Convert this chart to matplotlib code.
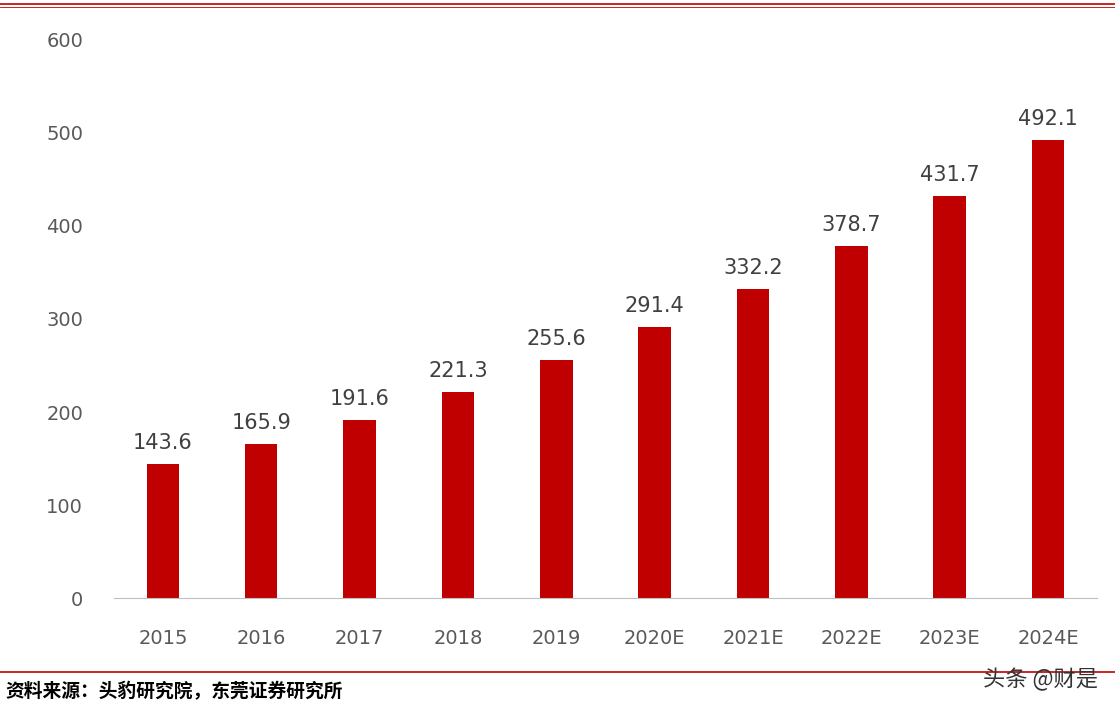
import matplotlib
matplotlib.use("Agg")
import matplotlib.pyplot as plt
from matplotlib.lines import Line2D

plt.rcParams['font.family'] = ['Noto Sans CJK SC', 'DejaVu Sans']

categories = ["2015", "2016", "2017", "2018", "2019", "2020E", "2021E", "2022E", "2023E", "2024E"]
values = [143.6, 165.9, 191.6, 221.3, 255.6, 291.4, 332.2, 378.7, 431.7, 492.1]
yticks = [0, 100, 200, 300, 400, 500, 600]

fig = plt.figure(figsize=(11.15, 7.12), dpi=100)
ax = fig.add_axes([0.102, 0.160, 0.882, 0.784])
x = range(len(categories))
ax.bar(x, values, width=0.33, color="#C00000")
for i, v in zip(x, values):
    ax.text(i, v + 12, f"{v:.1f}", ha="center", va="bottom", fontsize=15, color="#404040",
            family=['DejaVu Sans'])
ax.set_xlim(-0.5, len(categories) - 0.5)
ax.set_ylim(0, 600)
ax.set_yticks(yticks)
ax.set_xticks(list(x))
ax.set_xticklabels(categories)
for s in ["top", "right", "left"]:
    ax.spines[s].set_visible(False)
ax.spines["bottom"].set_color("#BFBFBF")
ax.tick_params(axis="both", length=0, labelsize=14, colors="#595959")
ax.tick_params(axis="x", pad=22)
ax.tick_params(axis="y", pad=22)
for lab in ax.get_xticklabels() + ax.get_yticklabels():
    lab.set_family(['DejaVu Sans'])

fig.add_artist(Line2D([0, 1], [1 - 4/712, 1 - 4/712], color="#C00000", lw=1.2))
fig.add_artist(Line2D([0, 1], [1 - 7/712, 1 - 7/712], color="#C00000", lw=0.6))
fig.add_artist(Line2D([0, 1], [1 - 672/712, 1 - 672/712], color="#C00000", lw=1.2))
fig.text(0.005, 1 - 692/712, "资料来源：头豹研究院，东莞证券研究所", fontsize=13.5, va="center",
         color="black", fontweight="bold")
fig.text(0.985, 1 - 680/712, "头条 @财是", fontsize=16, va="center", ha="right", color="#333333")

fig.savefig("out.png", dpi=100)
